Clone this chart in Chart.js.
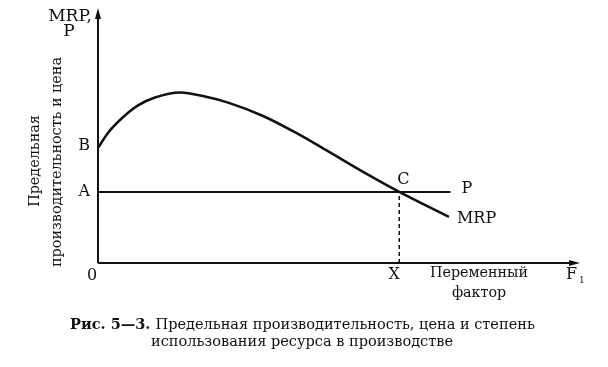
<!DOCTYPE html>
<html>
<head>
<meta charset="utf-8">
<script src="https://cdn.jsdelivr.net/npm/chart.js@4.4.0/dist/chart.umd.min.js"></script>
<style>
  html, body { margin: 0; padding: 0; background: #fff; }
  #wrap { width: 608px; height: 367px; }
</style>
</head>
<body>
<div id="wrap"><canvas id="grafico" width="608" height="367"></canvas></div>
<script>
// кривая MRP (переменный фактор -> предельная доходность)
const mrpX = [0, 0.33, 0.80, 1.33, 1.89, 2.72, 3.55, 4.32, 5.48, 6.61, 7.70, 8.80, 10.0, 11.65];
const mrpY = [4.55, 5.14, 5.73, 6.23, 6.54, 6.74, 6.58, 6.34, 5.81, 5.12, 4.37, 3.60, 2.81, 1.82];
// линия цены P
const precioX = [0, 11.7];
const precioY = [2.81, 2.81];
// точка C и уровень X, точка B на оси
const puntoC = { x: 10.0, y: 2.81 };
const puntoB = 4.55;
const fuente = '"DejaVu Serif", "Liberation Serif", serif';

const lineaMrp = mrpX.map((x, i) => ({ x: x, y: mrpY[i] }));
const lineaP = precioX.map((x, i) => ({ x: x, y: precioY[i] }));
const lineaX = [{ x: puntoC.x, y: 0 }, { x: puntoC.x, y: puntoC.y }];

// tamaño de letra para que el texto ocupe el ancho medido en la figura
function tamanoPara(ctx, texto, ancho, peso) {
  ctx.font = (peso || '') + ' 20px ' + fuente;
  return 20 * ancho / ctx.measureText(texto).width;
}

// ejes con flechas, letras y pie de figura
const dibujoEjes = {
  id: 'dibujoEjes',
  afterDraw(chart) {
    const ctx = chart.ctx;
    const sx = chart.scales.x;
    const sy = chart.scales.y;
    const x0 = sx.getPixelForValue(0);
    const y0 = sy.getPixelForValue(0);
    const xEnd = sx.right;
    const yTop = sy.top - 2;
    ctx.save();
    ctx.strokeStyle = '#111';
    ctx.fillStyle = '#111';
    ctx.lineWidth = 2;
    ctx.beginPath();
    ctx.moveTo(x0, y0);
    ctx.lineTo(x0, yTop + 6);
    ctx.moveTo(x0, y0);
    ctx.lineTo(xEnd - 6, y0);
    ctx.stroke();
    // flechas
    ctx.beginPath();
    ctx.moveTo(x0, yTop);
    ctx.lineTo(x0 - 3, yTop + 11);
    ctx.lineTo(x0 + 3, yTop + 11);
    ctx.closePath();
    ctx.fill();
    ctx.beginPath();
    ctx.moveTo(xEnd, y0);
    ctx.lineTo(xEnd - 11, y0 - 3);
    ctx.lineTo(xEnd - 11, y0 + 3);
    ctx.closePath();
    ctx.fill();

    ctx.font = '16px ' + fuente;
    ctx.textBaseline = 'middle';
    ctx.textAlign = 'right';
    ctx.fillText('B', x0 - 8, sy.getPixelForValue(puntoB) - 2);
    ctx.fillText('A', x0 - 8, sy.getPixelForValue(puntoC.y));
    ctx.textAlign = 'center';
    ctx.fillText('C', sx.getPixelForValue(puntoC.x) + 4, sy.getPixelForValue(puntoC.y) - 12);
    ctx.fillText('X', sx.getPixelForValue(puntoC.x) - 5, y0 + 12);
    ctx.fillText('0', x0 - 6, y0 + 13);
    ctx.textAlign = 'left';
    ctx.fillText('P', sx.getPixelForValue(precioX[1]) + 11, sy.getPixelForValue(precioY[1]) - 3);
    ctx.fillText('MRP', sx.getPixelForValue(mrpX[mrpX.length - 1]) + 8, sy.getPixelForValue(mrpY[mrpY.length - 1]) + 2);
    ctx.fillText('F', xEnd - 14, y0 + 12);
    ctx.font = '9px ' + fuente;
    ctx.fillText('1', xEnd - 1, y0 + 18);

    ctx.font = '17px ' + fuente;
    ctx.textAlign = 'center';
    ctx.fillText('MRP,', 70, 17);
    ctx.fillText('P', 69, 32);

    const tVar = tamanoPara(ctx, 'Переменный', 98);
    ctx.font = tVar + 'px ' + fuente;
    ctx.fillText('Переменный', 479, 273);
    ctx.fillText('фактор', 479, 293);

    // titulo vertical
    const tEje = tamanoPara(ctx, 'производительность и цена', 210);
    ctx.font = tEje + 'px ' + fuente;
    ctx.save();
    ctx.translate(35, 161);
    ctx.rotate(-Math.PI / 2);
    ctx.fillText('Предельная', 0, 0);
    ctx.restore();
    ctx.save();
    ctx.translate(57, 162);
    ctx.rotate(-Math.PI / 2);
    ctx.fillText('производительность и цена', 0, 0);
    ctx.restore();

    // pie de figura
    const negrita = 'Рис. 5—3. ';
    const resto = 'Предельная производительность, цена и степень';
    ctx.font = 'bold 20px ' + fuente;
    const wb = ctx.measureText(negrita).width;
    ctx.font = '20px ' + fuente;
    const wr = ctx.measureText(resto).width;
    const tPie = 20 * 465 / (wb + wr);
    const inicio = 70;
    ctx.textAlign = 'left';
    ctx.font = 'bold ' + tPie + 'px ' + fuente;
    ctx.fillText(negrita, inicio, 325);
    ctx.font = tPie + 'px ' + fuente;
    ctx.fillText(resto, inicio + wb * tPie / 20, 325);
    ctx.textAlign = 'center';
    ctx.fillText('использования ресурса в производстве', 302, 342);
    ctx.restore();
  }
};

const grafico = new Chart(document.getElementById('grafico'), {
  type: 'line',
  data: {
    datasets: [
      {
        label: 'MRP',
        data: lineaMrp,
        borderColor: '#111',
        borderWidth: 2.5,
        pointRadius: 0,
        cubicInterpolationMode: 'monotone',
        fill: false
      },
      {
        label: 'P',
        data: lineaP,
        borderColor: '#111',
        borderWidth: 2,
        pointRadius: 0,
        fill: false
      },
      {
        label: 'X',
        data: lineaX,
        borderColor: '#111',
        borderWidth: 1.5,
        borderDash: [4, 3],
        pointRadius: 0,
        fill: false
      }
    ]
  },
  options: {
    responsive: false,
    animation: false,
    layout: { padding: { left: 98, right: 28, top: 10, bottom: 104 } },
    plugins: { legend: { display: false }, tooltip: { enabled: false } },
    scales: {
      x: { type: 'linear', min: 0, max: 16, display: false },
      y: { type: 'linear', min: 0, max: 10, display: false }
    }
  },
  plugins: [dibujoEjes]
});
</script>
</body>
</html>
